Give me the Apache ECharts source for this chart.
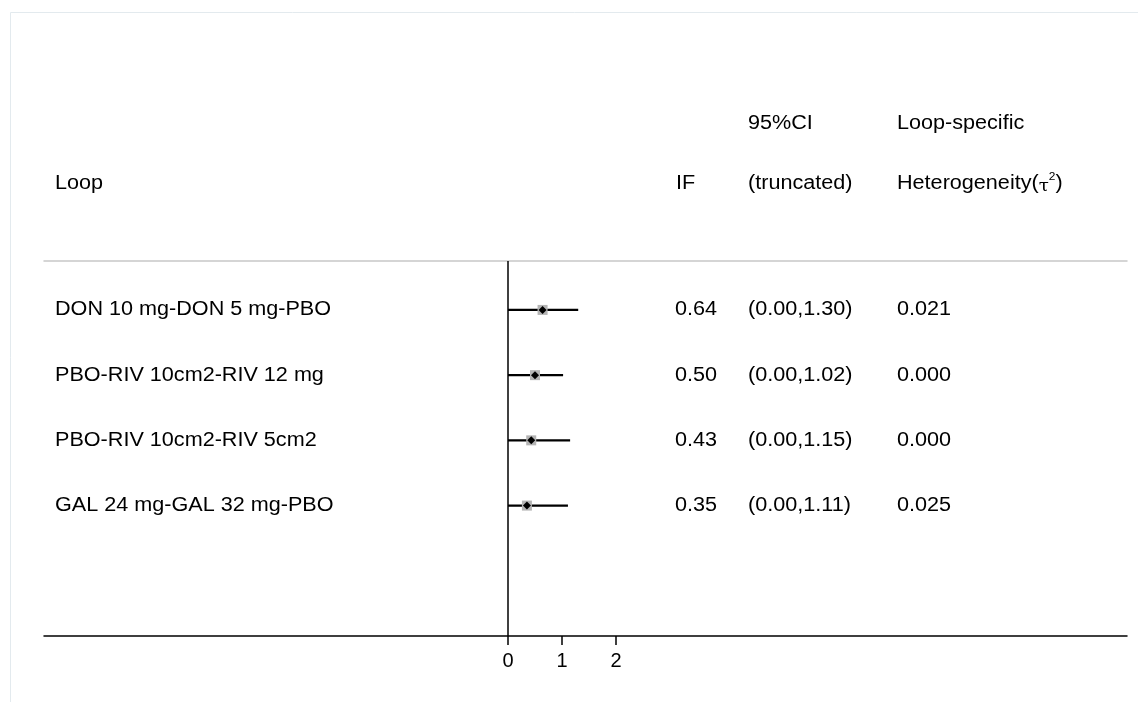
<!DOCTYPE html>
<html>
<head>
<meta charset="utf-8">
<title>Loop inconsistency</title>
<script src="https://cdn.jsdelivr.net/npm/echarts@6/dist/echarts.min.js"></script>
<style>
  html, body { margin: 0; padding: 0; background: #ffffff; }
  #chart { width: 1138px; height: 702px; }
</style>
</head>
<body>
<div id="chart"></div>
<script>
// Loops (top to bottom) with their inconsistency factor and truncated 95% CI
const loops = [
  'DON 10 mg-DON 5 mg-PBO',
  'PBO-RIV 10cm2-RIV 12 mg',
  'PBO-RIV 10cm2-RIV 5cm2',
  'GAL 24 mg-GAL 32 mg-PBO'
];
const ifValues = [0.64, 0.50, 0.43, 0.35];
const ciLow = [0.00, 0.00, 0.00, 0.00];
const ciHigh = [1.30, 1.02, 1.15, 1.11];
const tau2 = [0.021, 0.000, 0.000, 0.025];
const xTicks = [0, 1, 2];

// row positions on the value axis (first loop on top)
const rowY = loops.map((_, i) => loops.length - i);

const FONT = '"Liberation Sans", Arial, sans-serif';
const FS = 20;
const SX = 1.08; // slight horizontal stretch of the table text
// text column left edges (px)
const COL_LOOP = 55, COL_IF = 675, COL_CI = 748, COL_TAU = 897;

const chart = echarts.init(document.getElementById('chart'), null, { renderer: 'canvas' });

const rows = loops.map((name, i) => [ciLow[i], ciHigh[i], ifValues[i], rowY[i], i]);

function headText(s, x, y) {
  return { type: 'text', x: x, y: y, scaleX: SX, silent: true,
    style: { text: s, font: FS + 'px ' + FONT, fill: '#000', verticalAlign: 'middle' } };
}

const option = {
  backgroundColor: '#ffffff',
  animation: false,
  graphic: [
    {
      type: 'rect', silent: true,
      shape: { x: 10.5, y: 12.5, width: 1200, height: 800 },
      style: { fill: 'none', stroke: '#e3eaee', lineWidth: 1 }
    },
    headText('Loop', COL_LOOP, 183),
    headText('IF', 676, 183),
    headText('95%CI', COL_CI, 123),
    headText('(truncated)', COL_CI, 183),
    headText('Loop-specific', COL_TAU, 123),
    {
      type: 'text', x: COL_TAU, y: 183, scaleX: SX, silent: true,
      style: {
        text: 'Heterogeneity({t|τ}{s|2})',
        font: FS + 'px ' + FONT, fill: '#000', verticalAlign: 'middle',
        rich: {
          t: { fontSize: 17, fontFamily: '"DejaVu Serif", serif', fill: '#000', verticalAlign: 'bottom', padding: [7, 0, 0, 0] },
          s: { fontSize: 11, fontFamily: FONT, fill: '#000', verticalAlign: 'top', padding: [0, 0, 10, 0] }
        }
      }
    }
  ],
  grid: { left: 44, right: 11, top: 261, bottom: 66 },
  xAxis: [
    {
      type: 'value', position: 'bottom',
      min: -8.593, max: 11.463,
      axisLine: { show: true, onZero: false, lineStyle: { color: '#000', width: 1.5 } },
      axisTick: { show: true, length: 9, customValues: xTicks, lineStyle: { color: '#000', width: 1.5 } },
      axisLabel: { show: true, customValues: xTicks, color: '#000', fontSize: FS, fontFamily: FONT, margin: 15 },
      splitLine: { show: false }
    },
    {
      type: 'value', position: 'top',
      min: -8.593, max: 11.463,
      axisLine: { show: true, onZero: false, lineStyle: { color: '#c8c8c8', width: 1.5 } },
      axisTick: { show: false }, axisLabel: { show: false }, splitLine: { show: false }
    }
  ],
  yAxis: {
    type: 'value', min: -1, max: 4.75,
    axisLine: { show: false }, axisTick: { show: false },
    axisLabel: { show: false }, splitLine: { show: false }
  },
  series: [
    {
      // confidence intervals, markers and the per-row table text
      type: 'custom',
      clip: false,
      data: rows,
      renderItem: function (params, api) {
        const lo = api.coord([api.value(0), api.value(3)]);
        const hi = api.coord([api.value(1), api.value(3)]);
        const pt = api.coord([api.value(2), api.value(3)]);
        const i = api.value(4);
        const y = pt[1];
        const txt = (s, x) => ({
          type: 'text', x: x, y: y, scaleX: SX,
          style: { text: s, font: FS + 'px ' + FONT, fill: '#000', verticalAlign: 'middle', align: 'left' }
        });
        return {
          type: 'group',
          children: [
            { type: 'line', shape: { x1: lo[0], y1: y, x2: hi[0], y2: y }, style: { stroke: '#000', lineWidth: 2.2 } },
            { type: 'rect', shape: { x: pt[0] - 5, y: y - 5, width: 10, height: 10 }, style: { fill: '#b4b4b4' } },
            { type: 'polygon', shape: { points: [[pt[0] - 4, y], [pt[0], y - 4], [pt[0] + 4, y], [pt[0], y + 4]] }, style: { fill: '#000' } },
            txt(loops[i], COL_LOOP),
            txt(ifValues[i].toFixed(2), COL_IF),
            txt('(' + ciLow[i].toFixed(2) + ',' + ciHigh[i].toFixed(2) + ')', COL_CI),
            txt(tau2[i].toFixed(3), COL_TAU)
          ]
        };
      },
      markLine: {
        silent: true, symbol: 'none', label: { show: false },
        lineStyle: { color: '#000', width: 1.5, type: 'solid' },
        data: [{ xAxis: 0 }]
      }
    }
  ]
};

chart.setOption(option);
</script>
</body>
</html>
